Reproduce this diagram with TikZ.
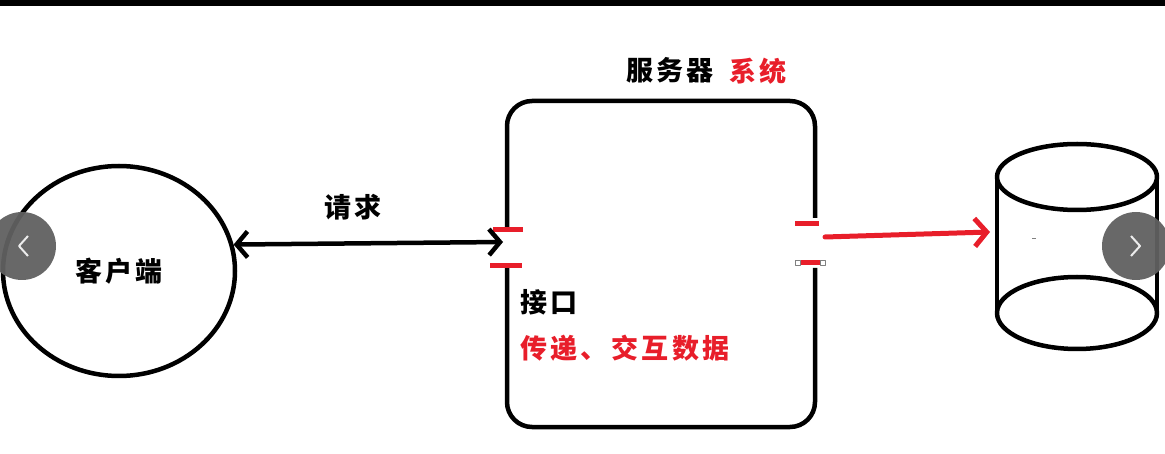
\documentclass[tikz,border=0pt]{standalone}
\usepackage{fontspec}
\newfontfamily\cjk{Noto Sans CJK SC}[LetterSpace=12]
\usetikzlibrary{arrows.meta,shapes.geometric}
\definecolor{portred}{RGB}{232,30,42}
\definecolor{navgray}{RGB}{96,96,96}
\tikzset{
  lbl/.style={inner sep=0pt,font=\cjk\bfseries\fontsize{27}{31}\selectfont},
  tick/.style={draw=portred,line width=5pt},
  thick line/.style={line width=4.5pt},
}
\begin{document}
\begin{tikzpicture}[x=1pt,y=-1pt,line join=round]
\path[use as bounding box] (0,0) rectangle (1165,454);
\fill (0,0) rectangle (1165,6);
% client
\node[draw,ellipse,thick line,minimum width=232pt,minimum height=210pt,lbl] (client) at (119,271) {客户端};
\node[lbl,anchor=west] (req) at (324,207) {请求};
% server box with two ports
\draw[thick line,rounded corners=25pt] (507,227) -- (507,101) -- (815,101) -- (815,218);
\draw[thick line,rounded corners=25pt] (815,268) -- (815,427) -- (507,427) -- (507,268);
\draw[tick] (493,230) -- (523,230);
\draw[tick] (490,266) -- (522,266);
\draw[tick] (795,224) -- (819,224);
\draw[tick] (798,263) -- (823,263);
\draw[gray,fill=white,line width=.6pt] (795.5,260.5) rectangle (800.5,265.5);
\draw[gray,fill=white,line width=.6pt] (820.5,260.5) rectangle (825.5,265.5);
\coordinate (portL) at (503,242);
\coordinate (portR) at (825,237);
\node[lbl,anchor=west] (title) at (626,70) {服务器};
\node[lbl,text=portred,anchor=west] (title2) at (729,71) {系统};
\node[lbl,anchor=west] (iface) at (520,302) {接口};
\node[lbl,text=portred,anchor=west] (note) at (520,348) {传递、\hspace{4pt}交互数据};
% database
\draw[thick line] (1077,177) ellipse (80 and 33);
\draw[thick line] (997,177) -- (997,313);
\draw[thick line] (1157,177) -- (1157,313);
\draw[thick line] (1077,313) ellipse (80 and 36);
\coordinate (db) at (990,232);
\draw[gray,line width=1pt] (1032,239) -- (1036,239);
% connectors
\draw[thick line,{Straight Barb[length=11pt,width=26pt]}-{Straight Barb[length=11pt,width=26pt]}] (client.13) -- (portL);
\draw[line width=5pt,portred,line cap=round,-{Straight Barb[length=12pt,width=28pt]}] (portR) -- (db);
% slider buttons
\fill[navgray,opacity=.95] (22,246) circle (34);
\draw[white!85!gray,line width=2pt] (28,236) -- (19,246) -- (28,256);
\fill[navgray,opacity=.95] (1136,246) circle (34);
\draw[white!85!gray,line width=2pt] (1131,236) -- (1140,246) -- (1131,256);
\end{tikzpicture}
\end{document}
